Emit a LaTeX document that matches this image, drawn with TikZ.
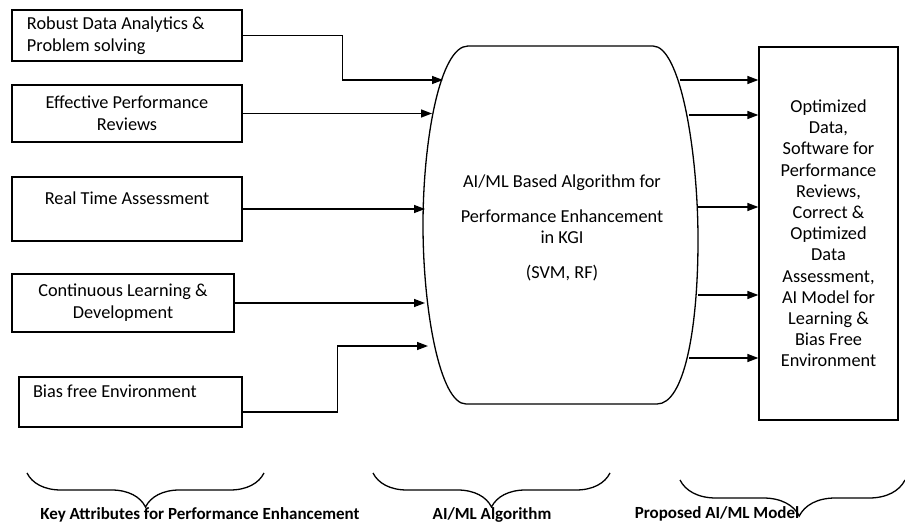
\documentclass[tikz,border=0pt]{standalone}
\usepackage{fontspec}
\setmainfont{Carlito}
\usetikzlibrary{shapes.geometric, arrows.meta, decorations.pathreplacing}
\tikzstyle{attribute} = [rectangle, minimum width=230pt, minimum height=56pt, align=center, draw=black, line width=1.3pt, font=\fontsize{18.3}{22}\selectfont]
\tikzstyle{output} = [rectangle, minimum width=139pt, minimum height=373pt, align=center, draw=black, line width=1.3pt, font=\fontsize{18.3}{21.2}\selectfont]
\tikzstyle{arrow} = [line width=1.4pt, -{Triangle[length=11pt,width=8pt]}]
\tikzstyle{bracket} = [line width=1.3pt, decorate, decoration={brace, mirror, amplitude=34pt}]
\tikzstyle{caption} = [font=\fontsize{17}{18}\selectfont\bfseries]

\begin{document}
\begin{tikzpicture}[x=1pt, y=-1pt]
                \useasboundingbox (0,0) rectangle (905,524);
                % Nodes
                \node (robust) [attribute, minimum height=51pt, text width=200pt, align=flush left] at (127,35.5) {Robust Data Analytics \&\\Problem solving};
                \node (reviews) [attribute, minimum height=57pt] at (127,113.5) {Effective Performance\\Reviews};
                \node (realtime) [attribute, minimum height=64pt] at (127,209) {Real Time Assessment\\\mbox{}};
                \node (learning) [attribute, minimum width=222pt, minimum height=58pt] at (123,303) {Continuous Learning \&\\Development};
                \node (biasfree) [attribute, minimum width=223pt, minimum height=50pt, text width=195pt, align=flush left] at (130.5,402) {Bias free Environment\\\mbox{}};
                \node (algo) [align=center, font=\fontsize{18.3}{21}\selectfont] at (562,227.5) {AI/ML Based Algorithm for\\[14pt]Performance Enhancement\\in KGI\\[14pt](SVM, RF)};
                \node (model) [output] at (828.5,233.5) {Optimized\\Data,\\Software for\\Performance\\Reviews,\\Correct \&\\Optimized\\Data\\Assessment,\\AI Model for\\Learning \&\\Bias Free\\Environment};

                % Algorithm outline
                \draw [line width=1.3pt] (468,46) -- (653,46) .. controls (680,46) and (698,150) .. (698,240) .. controls (698,330) and (684,404) .. (657,404) -- (466,404) .. controls (440,404) and (423,310) .. (423,225) .. controls (423,140) and (440,46) .. cycle;
                \coordinate (in1) at (443,80);
                \coordinate (in2) at (432,113.5);
                \coordinate (in3) at (425,209);
                \coordinate (in4) at (425,303);
                \coordinate (in5) at (428,346);
                \coordinate (out1) at (680,80);
                \coordinate (out2) at (689,115);
                \coordinate (out3) at (698,207);
                \coordinate (out4) at (698,295);
                \coordinate (out5) at (689,358);

                % Arrows
                \draw [arrow] (robust.east) -- ++(100,0) |- (in1);
                \draw [arrow] (reviews.east) -- (in2);
                \draw [arrow] (realtime.east) -- (in3);
                \draw [arrow] (learning.east) -- (in4);
                \draw [arrow] ([yshift=-10pt]biasfree.east) -- ++(95,0) |- (in5);
                \draw [arrow] (out1) -- (out1 -| model.west);
                \draw [arrow] (out2) -- (out2 -| model.west);
                \draw [arrow] (out3) -- (out3 -| model.west);
                \draw [arrow] (out4) -- (out4 -| model.west);
                \draw [arrow] (out5) -- (out5 -| model.west);

                % Braces
                \draw [bracket] (27,473) -- (264,473);
                \draw [bracket] (373,473) -- (610,473);
                \draw [bracket, decoration={aspect=0.53, amplitude=36pt}] (680,480) -- (905,480);
                \node (keyattr) [caption] at (200,515) {Key Attributes for Performance Enhancement};
                \node (algocap) [caption] at (492,515) {AI/ML Algorithm};
                \node (modelcap) [caption] at (717,514) {Proposed AI/ML Model};
            \end{tikzpicture}
\end{document}
